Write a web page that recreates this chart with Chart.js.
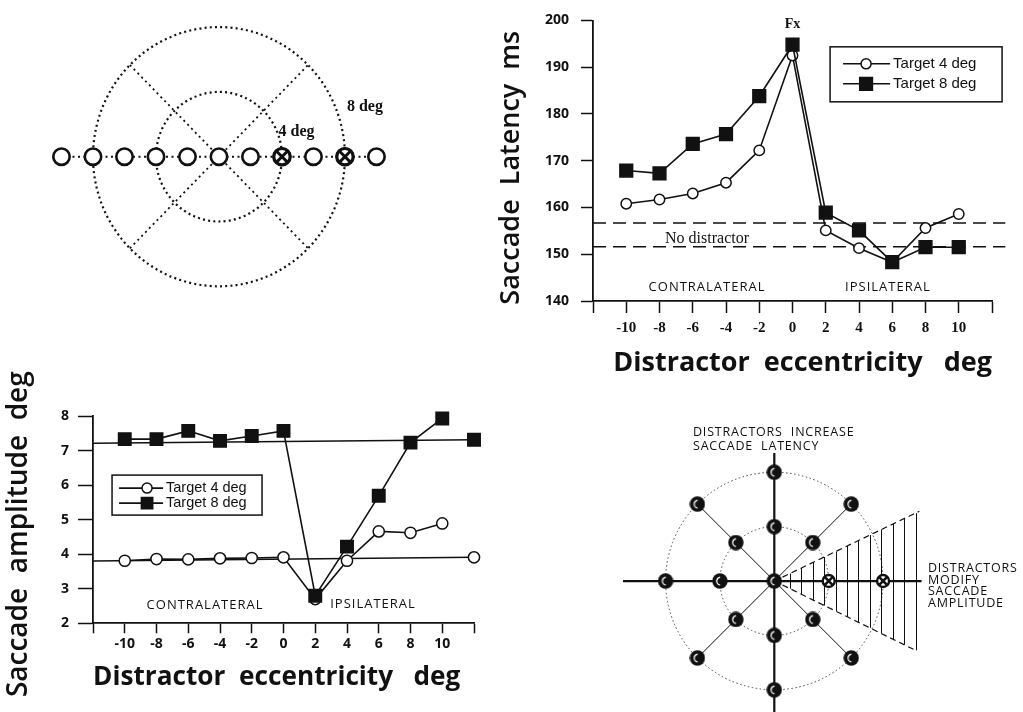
<!DOCTYPE html>
<html>
<head>
<meta charset="utf-8">
<script src="https://cdn.jsdelivr.net/npm/chart.js@4.4.1/dist/chart.umd.min.js"></script>
<style>
  html, body { margin: 0; padding: 0; background: #fff; }
  #figure { position: relative; width: 1023px; height: 712px; overflow: hidden; background: #fff; }
  #figure canvas { position: absolute; display: block; }
</style>
</head>
<body>
<div id="figure">
  <canvas id="stimulusLayout" width="400" height="320" style="left:30px;top:0px"></canvas>
  <canvas id="latencyChart" width="533" height="380" style="left:490px;top:0px"></canvas>
  <canvas id="amplitudeChart" width="500" height="357" style="left:0px;top:355px"></canvas>
  <canvas id="effectSummary" width="423" height="292" style="left:600px;top:420px"></canvas>
</div>
<script>
// ---------- data ----------
const ECCENTRICITY = [-10, -8, -6, -4, -2, 0, 2, 4, 6, 8, 10];
const ECC_AXIS_TICKS = [-12, -10, -8, -6, -4, -2, 0, 2, 4, 6, 8, 10, 12];
const SERIES_LABELS = ['Target 4 deg', 'Target 8 deg'];

// saccade latency (ms)
const LATENCY_TARGET4 = [160.8, 161.7, 163.0, 165.3, 172.2, 192.5, 155.1, 151.3, 148.3, 155.6, 158.6];
const LATENCY_TARGET8 = [167.9, 167.3, 173.6, 175.7, 183.8, 194.8, 158.9, 155.1, 148.3, 151.5, 151.5];
const LATENCY_NO_DISTRACTOR = [151.6, 156.7];      // target 4, target 8
const LATENCY_NO_DISTRACTOR_X = 12.8;
const LATENCY_TICKS = [140, 150, 160, 170, 180, 190, 200];

// saccade amplitude (deg)
const AMPLITUDE_TARGET4 = [3.81, 3.86, 3.85, 3.88, 3.89, 3.91, 2.70, 3.81, 4.66, 4.62, 4.89];
const AMPLITUDE_TARGET8 = [7.33, 7.33, 7.57, 7.28, 7.42, 7.57, 2.80, 4.22, 5.69, 7.23, 7.93];
const AMPLITUDE_NO_DISTRACTOR = [3.91, 7.31];      // target 4, target 8
const AMPLITUDE_BASELINE_LEFT = [3.80, 7.21];      // baseline level where it meets the y axis
const AMPLITUDE_NO_DISTRACTOR_X = 12;
const AMPLITUDE_TICKS = [2, 3, 4, 5, 6, 7, 8];

// stimulus layouts (deg)
const STIMULUS_POSITIONS = [-10, -8, -6, -4, -2, 0, 2, 4, 6, 8, 10];
const TARGET_POSITIONS = [4, 8];
const RING_RADII = [4, 8];
const DISTRACTOR_ANGLES = [45, 90, 135, 180, 225, 270, 315];
const WEDGE_UPPER_EDGE = { x: 10.67, y: 5.13 };
const WEDGE_LOWER_EDGE = { x: 10.42, y: -5.11 };

// ---------- shared helpers ----------
const INK = '#111';
const pairs = (xs, ys) => xs.map((x, i) => ({ x, y: ys[i] }));
const fixedTicks = list => scale => { scale.ticks = list.map(v => ({ value: v })); };

function drawMarker(ctx, style, x, y, r, fill, width) {
  ctx.save();
  ctx.fillStyle = fill; ctx.strokeStyle = INK; ctx.lineWidth = width;
  ctx.beginPath();
  if (style === 'rect') {
    const s = r * Math.SQRT1_2;
    ctx.rect(x - s, y - s, 2 * s, 2 * s);
  } else {
    ctx.arc(x, y, r, 0, Math.PI * 2);
  }
  ctx.fill(); ctx.stroke();
  ctx.restore();
}

// text placed at data coordinates
const notesPlugin = {
  id: 'notes',
  afterDatasetsDraw(chart, args, opts) {
    const { ctx } = chart, sx = chart.scales.x, sy = chart.scales.y;
    ctx.save();
    for (const n of opts.items || []) {
      ctx.font = n.font;
      ctx.fillStyle = INK;
      ctx.textAlign = n.align || 'center';
      ctx.textBaseline = 'middle';
      ctx.letterSpacing = n.spacing || '0px';
      ctx.fillText(n.text, sx.getPixelForValue(n.x), sy.getPixelForValue(n.y));
    }
    ctx.letterSpacing = '0px';
    ctx.restore();
  }
};

// framed legend with a line + marker sample per series
const boxLegendPlugin = {
  id: 'boxLegend',
  afterDatasetsDraw(chart, args, o) {
    if (!o.entries) return;
    const ctx = chart.ctx;
    const left = chart.scales.x.getPixelForValue(o.x);
    const top = chart.scales.y.getPixelForValue(o.y);
    ctx.save();
    ctx.fillStyle = '#fff';
    ctx.strokeStyle = INK;
    ctx.lineWidth = o.frameWidth;
    ctx.fillRect(left, top, o.width, o.height);
    ctx.strokeRect(left, top, o.width, o.height);
    o.entries.forEach((idx, i) => {
      const ds = chart.data.datasets[idx];
      const y = top + o.rows[i];
      ctx.strokeStyle = INK;
      ctx.lineWidth = ds.borderWidth;
      ctx.beginPath();
      ctx.moveTo(left + o.lineFrom, y);
      ctx.lineTo(left + o.lineTo, y);
      ctx.stroke();
      drawMarker(ctx, ds.pointStyle, left + o.markerAt, y, o.markerRadius[i], ds.pointBackgroundColor, ds.pointBorderWidth);
      ctx.fillStyle = INK;
      ctx.font = o.font;
      ctx.textAlign = 'left';
      ctx.textBaseline = 'middle';
      ctx.fillText(ds.label, left + o.textAt, y);
    });
    ctx.restore();
  }
};

// concentric eccentricity rings around the fixation point
const ringsPlugin = {
  id: 'rings',
  beforeDatasetsDraw(chart, args, o) {
    const { ctx } = chart, sx = chart.scales.x, sy = chart.scales.y;
    const cx = sx.getPixelForValue(0), cy = sy.getPixelForValue(0);
    ctx.save();
    ctx.strokeStyle = o.color; ctx.lineWidth = o.width; ctx.setLineDash(o.dash);
    for (const r of o.radii) {
      const rx = sx.getPixelForValue(r) - cx;
      const ry = cy - sy.getPixelForValue(r);
      ctx.beginPath();
      ctx.ellipse(cx, cy, rx, ry, 0, 0, Math.PI * 2);
      ctx.stroke();
    }
    ctx.restore();
  }
};

// vertical hatching inside the amplitude-effect wedge
const hatchPlugin = {
  id: 'hatch',
  beforeDatasetsDraw(chart, args, o) {
    if (!o.step) return;
    const { ctx } = chart, sx = chart.scales.x, sy = chart.scales.y;
    const up = o.upper.y / o.upper.x, lo = o.lower.y / o.lower.x;
    ctx.save();
    ctx.strokeStyle = INK; ctx.lineWidth = o.width;
    for (let x = o.from; x <= o.to + 1e-6; x += o.step) {
      const px = Math.round(sx.getPixelForValue(x)) + 0.5;
      ctx.beginPath();
      ctx.moveTo(px, sy.getPixelForValue(x * up));
      ctx.lineTo(px, sy.getPixelForValue(x * lo));
      ctx.stroke();
    }
    ctx.restore();
  }
};

Chart.defaults.font.family = "'Open Sans', 'DejaVu Sans', sans-serif";
Chart.defaults.color = INK;

const lineSeries = (label, data, style, radius, fill) => ({
  label, data, showLine: true, tension: 0, clip: false,
  borderColor: INK, borderWidth: 1.6,
  pointStyle: style, pointRadius: radius, pointBorderWidth: 1.5,
  pointBackgroundColor: fill, pointBorderColor: INK
});
const singleMarker = (point, style, radius, fill) => ({
  data: [point], showLine: false, clip: false,
  pointStyle: style, pointRadius: radius, pointBorderWidth: 1.5,
  pointBackgroundColor: fill, pointBorderColor: INK
});
const plainLine = (data, width, dash, color) => ({
  data, showLine: true, tension: 0, clip: false, pointRadius: 0,
  borderColor: color || INK, borderWidth: width, borderDash: dash || []
});

function axisStyle(tickLength, padding, font, callback) {
  const ticks = { padding, color: INK, font, autoSkip: false, maxRotation: 0 };
  if (callback) ticks.callback = callback;
  return {
    grid: { drawOnChartArea: false, drawTicks: true, tickLength, tickWidth: 1.5, tickColor: INK },
    border: { color: INK, width: 1.8 },
    ticks
  };
}
const eccLabel = v => (ECCENTRICITY.includes(v) ? String(v) : '');

const staticOptions = {
  responsive: false, animation: false, events: [],
  plugins: { legend: { display: false }, tooltip: { enabled: false } }
};

// ---------- saccade latency ----------
new Chart(document.getElementById('latencyChart'), {
  type: 'scatter',
  data: {
    datasets: [
      lineSeries(SERIES_LABELS[1], pairs(ECCENTRICITY, LATENCY_TARGET8), 'rect', 9, INK),
      lineSeries(SERIES_LABELS[0], pairs(ECCENTRICITY, LATENCY_TARGET4), 'circle', 5.2, '#fff'),
      singleMarker({ x: LATENCY_NO_DISTRACTOR_X, y: LATENCY_NO_DISTRACTOR[0] }, 'circle', 5.2, '#fff'),
      singleMarker({ x: LATENCY_NO_DISTRACTOR_X, y: LATENCY_NO_DISTRACTOR[1] }, 'rect', 9, INK),
      plainLine([{ x: -12, y: LATENCY_NO_DISTRACTOR[0] }, { x: LATENCY_NO_DISTRACTOR_X, y: LATENCY_NO_DISTRACTOR[0] }], 1.5, [13, 7]),
      plainLine([{ x: -12, y: LATENCY_NO_DISTRACTOR[1] }, { x: LATENCY_NO_DISTRACTOR_X, y: LATENCY_NO_DISTRACTOR[1] }], 1.5, [13, 7])
    ]
  },
  options: {
    ...staticOptions,
    layout: { padding: { left: 0, right: 31, top: 14, bottom: 0 }, autoPadding: false },
    scales: {
      x: {
        type: 'linear', min: -12, max: 12,
        afterBuildTicks: fixedTicks(ECC_AXIS_TICKS),
        afterFit: s => { s.height = 79; },
        ...axisStyle(12, 6, { family: "'Liberation Serif', serif", weight: 'bold', size: 15 }, eccLabel),
        title: {
          display: true, text: 'Distractor  eccentricity   deg', align: 'end', color: INK,
          font: { weight: 'bold', size: 27 }, padding: { top: 0, bottom: 0 }
        }
      },
      y: {
        type: 'linear', min: 140, max: 200,
        afterBuildTicks: fixedTicks(LATENCY_TICKS),
        afterFit: s => { s.width = 103; },
        ...axisStyle(12, 12, { weight: 'bold', size: 14 }),
        title: {
          display: true, text: 'Saccade  Latency  ms  ', color: INK,
          font: { weight: '600', size: 27 }, padding: { top: 5, bottom: 0 }
        }
      }
    },
    plugins: {
      ...staticOptions.plugins,
      notes: {
        items: [
          { text: 'Fx', x: 0, y: 199.2, font: "bold 14px 'Liberation Serif', serif" },
          { text: 'No distractor', x: -5.14, y: 153.4, font: "16px 'Liberation Serif', serif" },
          { text: 'CONTRALATERAL', x: -5.14, y: 142.9, font: "13px 'Open Sans', sans-serif", spacing: '1px' },
          { text: 'IPSILATERAL', x: 5.74, y: 142.9, font: "13px 'Open Sans', sans-serif", spacing: '1px' }
        ]
      },
      boxLegend: {
        entries: [1, 0], x: 2.26, y: 194.35, width: 172, height: 55, frameWidth: 1.5,
        rows: [17, 37], lineFrom: 13, lineTo: 60, markerAt: 36, textAt: 63,
        markerRadius: [5, 9], font: "15px 'Liberation Sans', Arial, sans-serif"
      }
    }
  },
  plugins: [notesPlugin, boxLegendPlugin]
});

// ---------- saccade amplitude ----------
new Chart(document.getElementById('amplitudeChart'), {
  type: 'scatter',
  data: {
    datasets: [
      lineSeries(SERIES_LABELS[1], pairs(ECCENTRICITY, AMPLITUDE_TARGET8), 'rect', 8.8, INK),
      lineSeries(SERIES_LABELS[0], pairs(ECCENTRICITY, AMPLITUDE_TARGET4), 'circle', 5.6, '#fff'),
      singleMarker({ x: AMPLITUDE_NO_DISTRACTOR_X, y: AMPLITUDE_NO_DISTRACTOR[0] }, 'circle', 5.6, '#fff'),
      singleMarker({ x: AMPLITUDE_NO_DISTRACTOR_X, y: AMPLITUDE_NO_DISTRACTOR[1] }, 'rect', 8.8, INK),
      plainLine([{ x: -12, y: AMPLITUDE_BASELINE_LEFT[0] }, { x: AMPLITUDE_NO_DISTRACTOR_X, y: AMPLITUDE_NO_DISTRACTOR[0] }], 1.5),
      plainLine([{ x: -12, y: AMPLITUDE_BASELINE_LEFT[1] }, { x: AMPLITUDE_NO_DISTRACTOR_X, y: AMPLITUDE_NO_DISTRACTOR[1] }], 1.5)
    ]
  },
  options: {
    ...staticOptions,
    layout: { padding: { left: 0, right: 26, top: 61, bottom: 0 }, autoPadding: false },
    scales: {
      x: {
        type: 'linear', min: -12, max: 12,
        afterBuildTicks: fixedTicks(ECC_AXIS_TICKS),
        afterFit: s => { s.height = 88.7; },
        ...axisStyle(10, 2, { weight: 'bold', size: 14 }, eccLabel),
        title: {
          display: true, text: 'Distractor  eccentricity   deg  ', color: INK,
          font: { weight: 'bold', size: 27 }, padding: { top: 0, bottom: 18 }
        }
      },
      y: {
        type: 'linear', min: 2, max: 8,
        afterBuildTicks: fixedTicks(AMPLITUDE_TICKS),
        afterFit: s => { s.width = 93; },
        ...axisStyle(15, 9, { weight: 'bold', size: 14 }),
        title: {
          display: true, text: 'Saccade  amplitude  deg    ', color: INK,
          font: { weight: '600', size: 28 }, padding: { top: 2, bottom: 0 }
        }
      }
    },
    plugins: {
      ...staticOptions.plugins,
      notes: {
        items: [
          { text: 'CONTRALATERAL', x: -4.94, y: 2.53, font: "13px 'Open Sans', sans-serif", spacing: '1px' },
          { text: 'IPSILATERAL', x: 5.64, y: 2.56, font: "13px 'Open Sans', sans-serif", spacing: '1px' }
        ]
      },
      boxLegend: {
        entries: [1, 0], x: -10.8, y: 6.29, width: 150, height: 40, frameWidth: 1.5,
        rows: [13, 28], lineFrom: 7, lineTo: 51, markerAt: 35, textAt: 54,
        markerRadius: [5, 8], font: "14.5px 'Liberation Sans', Arial, sans-serif"
      }
    }
  },
  plugins: [notesPlugin, boxLegendPlugin]
});

// ---------- horizontal stimulus layout ----------
const diagramScales = (xMin, xMax, yMin, yMax) => ({
  x: { type: 'linear', min: xMin, max: xMax, display: false },
  y: { type: 'linear', min: yMin, max: yMax, display: false }
});
const DIAG = 8 * Math.SQRT1_2;

new Chart(document.getElementById('stimulusLayout'), {
  type: 'scatter',
  data: {
    datasets: [
      { data: TARGET_POSITIONS.map(x => ({ x, y: 0 })), pointStyle: 'crossRot', pointRadius: 8,
        pointBorderWidth: 3, pointBorderColor: INK, clip: false },
      { data: TARGET_POSITIONS.map(x => ({ x, y: 0 })), pointStyle: 'circle', pointRadius: 8.2,
        pointBorderWidth: 3.2, pointBorderColor: INK, pointBackgroundColor: '#fff', clip: false },
      { data: STIMULUS_POSITIONS.map(x => ({ x, y: 0 })), pointStyle: 'circle', pointRadius: 8.2,
        pointBorderWidth: 2.6, pointBorderColor: INK, pointBackgroundColor: '#fff', clip: false },
      plainLine([{ x: -10, y: 0 }, { x: 10, y: 0 }], 2, [2, 3.5]),
      plainLine([{ x: -DIAG, y: DIAG }, { x: DIAG, y: -DIAG }], 1.8, [2, 3.5]),
      plainLine([{ x: -DIAG, y: -DIAG }, { x: DIAG, y: DIAG }], 1.8, [2, 3.5])
    ]
  },
  options: {
    ...staticOptions,
    layout: { padding: 0, autoPadding: false },
    scales: diagramScales(-12.0, 13.4, -10.08, 9.67),
    plugins: {
      ...staticOptions.plugins,
      rings: { radii: RING_RADII, color: INK, width: 2.2, dash: [2, 3.2] },
      notes: {
        items: [
          { text: '4 deg', x: 4.93, y: 1.54, font: "bold 16px 'Liberation Serif', serif" },
          { text: '8 deg', x: 9.27, y: 3.05, font: "bold 16px 'Liberation Serif', serif" }
        ]
      }
    }
  },
  plugins: [ringsPlugin, notesPlugin]
});

// ---------- distractor effect summary ----------
function sphereMarker(size) {
  const c = document.createElement('canvas');
  c.width = c.height = size;
  const g = c.getContext('2d');
  const r = size / 2;
  g.fillStyle = INK;
  g.beginPath(); g.arc(r, r, r - 0.3, 0, Math.PI * 2); g.fill();
  g.strokeStyle = '#fff'; g.lineWidth = 1.3;
  g.beginPath(); g.arc(r + 0.8, r, r * 0.5, Math.PI * 0.55, Math.PI * 1.45); g.stroke();
  return c;
}
const SPHERE = sphereMarker(16);
const polar = (r, deg) => ({ x: r * Math.cos(deg * Math.PI / 180), y: r * Math.sin(deg * Math.PI / 180) });
const distractorPoints = [{ x: 0, y: 0 }];
RING_RADII.forEach(r => DISTRACTOR_ANGLES.forEach(a => distractorPoints.push(polar(r, a))));

new Chart(document.getElementById('effectSummary'), {
  type: 'scatter',
  data: {
    datasets: [
      { data: TARGET_POSITIONS.map(x => ({ x, y: 0 })), pointStyle: 'crossRot', pointRadius: 6.5,
        pointBorderWidth: 2.6, pointBorderColor: INK, clip: false },
      { data: TARGET_POSITIONS.map(x => ({ x, y: 0 })), pointStyle: 'circle', pointRadius: 6,
        pointBorderWidth: 2.4, pointBorderColor: INK, pointBackgroundColor: '#fff', clip: false },
      { data: distractorPoints, pointStyle: SPHERE, pointRadius: 7, clip: false },
      plainLine([{ x: -11.13, y: 0 }, { x: 10.83, y: 0 }], 2.2),
      plainLine([{ x: 0, y: 9.41 }, { x: 0, y: -9.63 }], 2.2),
      plainLine([polar(8, 135), polar(8, 315)], 1),
      plainLine([polar(8, 45), polar(8, 225)], 1),
      plainLine([{ x: 0.6, y: 0.29 }, WEDGE_UPPER_EDGE], 1.2, [6, 4]),
      plainLine([{ x: 0.6, y: -0.29 }, WEDGE_LOWER_EDGE], 1.2, [6, 4])
    ]
  },
  options: {
    ...staticOptions,
    layout: { padding: 0, autoPadding: false },
    scales: diagramScales(-12.82, 18.29, -9.63, 11.84),
    plugins: {
      ...staticOptions.plugins,
      rings: { radii: RING_RADII, color: '#444', width: 1, dash: [1.5, 2.5] },
      hatch: { upper: WEDGE_UPPER_EDGE, lower: WEDGE_LOWER_EDGE, from: 1.15, to: 10.4, step: 0.84, width: 1 },
      notes: {
        items: [
          { text: 'DISTRACTORS  INCREASE', x: -5.98, y: 10.91, align: 'left', font: "12.5px 'Open Sans', sans-serif", spacing: '0.8px' },
          { text: 'SACCADE  LATENCY', x: -5.98, y: 9.88, align: 'left', font: "12.5px 'Open Sans', sans-serif", spacing: '0.8px' },
          { text: 'DISTRACTORS', x: 11.30, y: 0.94, align: 'left', font: "12.5px 'Open Sans', sans-serif", spacing: '0.8px' },
          { text: 'MODIFY', x: 11.30, y: 0.08, align: 'left', font: "12.5px 'Open Sans', sans-serif", spacing: '0.8px' },
          { text: 'SACCADE', x: 11.30, y: -0.78, align: 'left', font: "12.5px 'Open Sans', sans-serif", spacing: '0.8px' },
          { text: 'AMPLITUDE', x: 11.30, y: -1.64, align: 'left', font: "12.5px 'Open Sans', sans-serif", spacing: '0.8px' }
        ]
      }
    }
  },
  plugins: [ringsPlugin, hatchPlugin, notesPlugin]
});
</script>
</body>
</html>
